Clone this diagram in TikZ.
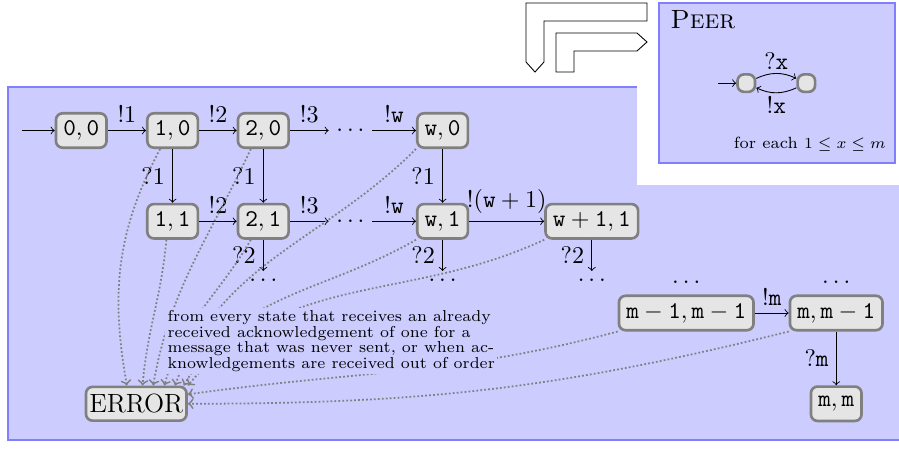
\documentclass[tikz,border=0pt]{standalone}
\usepackage{tikz}
\usetikzlibrary{calc}
\usetikzlibrary{positioning}

\begin{document}
\begin{tikzpicture}[
    font=\fontsize{11pt}{13pt}\selectfont,
    statebox/.style={rectangle, rounded corners=3pt, draw=gray, very thick, fill=gray!20, inner xsep=3.33pt, minimum height=0.55cm},
    errline/.style={->, gray, thick, densely dotted},
]
    \useasboundingbox (0,0) rectangle (14.384,-7.184);
    \clip (0,0) rectangle (14.384,-7.184);

    % background
    \draw[thick, draw=blue!50, fill=blue!20] (0.128,-1.392) rectangle (15,-7.04);
    \fill[white] (10.192,0.1) rectangle (15,-2.96);

    % channel arrows
    \draw (8.416,-0.048) -- (10.352,-0.048) -- (10.352,-0.336) -- (8.704,-0.336) -- (8.704,-0.992) -- (8.56,-1.152) -- (8.416,-0.992) -- cycle;
    \draw (8.896,-0.528) -- (10.192,-0.528) -- (10.352,-0.672) -- (10.192,-0.816) -- (9.184,-0.816) -- (9.184,-1.152) -- (8.896,-1.152) -- cycle;

    % peer
    \draw[thick, draw=blue!50, fill=blue!20] (10.544,-0.048) rectangle (14.32,-2.608);
    \node[anchor=base west, font=\large, inner sep=0pt] (peer_title) at (10.72,-0.464) {\textsc{Peer}};
    \node[statebox, minimum size=0.28cm, inner sep=0pt] (peer_a) at (11.94,-1.33) {};
    \node[statebox, minimum size=0.28cm, inner sep=0pt, right=0.64cm of peer_a] (peer_b) {};
    \coordinate[left=0.29cm of peer_a] (peer_init);
    \draw[->] (peer_init) -- (peer_a);
    \draw[->] (peer_a) to[bend left=25] node[above, inner sep=1.5pt] {$?\mathtt{x}$} (peer_b);
    \draw[->] (peer_b) to[bend left=25] node[below, inner sep=1.5pt] {$!\mathtt{x}$} (peer_a);
    \node[anchor=base east, inner sep=0pt, font=\fontsize{7.4pt}{9pt}\selectfont] (peer_range) at (14.18,-2.384) {for each $1 \leq x \leq m$};

    % states
    \node[statebox] (state_0_0) at (1.30,-2.088) {$\mathtt{0,0}$};
    \coordinate[left=0.53cm of state_0_0] (init);
    \node[statebox, right=0.61cm of state_0_0] (state_1_0) {$\mathtt{1,0}$};
    \node[statebox, right=0.6cm of state_1_0] (state_2_0) {$\mathtt{2,0}$};
    \node[right=0.62cm of state_2_0] (dots_0) {$\dots$};
    \node[statebox, right=0.7cm of dots_0] (state_w_0) {$\mathtt{w,0}$};

    \node[statebox, below=0.86cm of state_1_0] (state_1_1) {$\mathtt{1,1}$};
    \node[statebox, below=0.86cm of state_2_0] (state_2_1) {$\mathtt{2,1}$};
    \node[right=0.62cm of state_2_1] (dots_1) {$\dots$};
    \node[statebox, right=0.7cm of dots_1] (state_w_1) {$\mathtt{w,1}$};
    \node[statebox, right=1.2cm of state_w_1] (state_w1_1) {$\mathtt{w+1,1}$};

    \node[below=0.5cm of state_2_1] (dots_2_2) {$\dots$};
    \node[below=0.5cm of state_w_1] (dots_w_2) {$\dots$};
    \node[below=0.5cm of state_w1_1] (dots_w1_2) {$\dots$};

    \node[statebox] (state_m1_m1) at (10.98,-5.008) {$\mathtt{m-1,m-1}$};
    \node[statebox, right=0.54cm of state_m1_m1] (state_m_m1) {$\mathtt{m,m-1}$};
    \node[statebox, below=0.86cm of state_m_m1] (state_m_m) {$\mathtt{m,m}$};
    \node[above=0.05cm of state_m1_m1] (dots_m1) {$\dots$};
    \node[above=0.05cm of state_m_m1] (dots_m) {$\dots$};

    \node[statebox, font=\large, inner xsep=1.5pt, minimum height=0pt] (error) at (2.18,-6.46) {ERROR};

    \draw[->] (init) -- (state_0_0);
    \draw[->] (state_0_0) -- node[above] {$!1$} (state_1_0);
    \draw[->] (state_1_0) -- node[above] {$!2$} (state_2_0);
    \draw[->] (state_2_0) -- node[above] {$!3$} (dots_0);
    \draw[->] (dots_0) -- node[above] {$!\mathtt{w}$} (state_w_0);
    \draw[->] (state_1_1) -- node[above] {$!2$} (state_2_1);
    \draw[->] (state_2_1) -- node[above] {$!3$} (dots_1);
    \draw[->] (dots_1) -- node[above] {$!\mathtt{w}$} (state_w_1);
    \draw[->] (state_w_1) -- node[above] {$!(\mathtt{w}+1)$} (state_w1_1);
    \draw[->] (state_m1_m1) -- node[above] {$!\mathtt{m}$} (state_m_m1);
    \draw[->] (state_1_0) -- node[left] {$?1$} (state_1_1);
    \draw[->] (state_2_0) -- node[left] {$?1$} (state_2_1);
    \draw[->] (state_w_0) -- node[left] {$?1$} (state_w_1);
    \draw[->] (state_2_1) -- node[left] {$?2$} (dots_2_2);
    \draw[->] (state_w_1) -- node[left] {$?2$} (dots_w_2);
    \draw[->] (state_w1_1) -- node[left] {$?2$} (dots_w1_2);
    \draw[->] (state_m_m1) -- node[left] {$?\mathtt{m}$} (state_m_m);

    % error transitions
    \draw[errline] ([xshift=-0.2cm]state_1_0.south) to[out=-118, in=100] ([xshift=-0.15cm]error.north);
    \draw[errline] ([xshift=-0.1cm]state_1_1.south) to[out=-95, in=85] ([xshift=0.1cm]error.north);
    \draw[errline] ([xshift=-0.2cm]state_2_0.south) to[out=-115, in=80] ([xshift=0.27cm]error.north);
    \draw[errline] ([xshift=-0.2cm]state_2_1.south) to[out=-120, in=75] ([xshift=0.45cm]error.north);
    \draw[errline] (state_w_0.south west) to[out=-135, in=70] ([xshift=0.62cm]error.north);
    \draw[errline] (state_w_1.south west) to[out=-150, in=60] ([xshift=0.76cm]error.north);
    \draw[errline] (state_w1_1.south west) to[out=-155, in=50] (error.north east);
    \draw[errline] (state_m1_m1.south west) to[out=195, in=8] ([yshift=0.15cm]error.east);
    \draw[errline] (state_m_m1.south west) to[out=194, in=0] (error.east);

    \node[anchor=west, fill=blue!20, inner sep=1pt, align=left, font=\fontsize{7.2pt}{7.1pt}\selectfont] (error_note) at (2.64,-5.456) {from every state that receives an already\\ received acknowledgement of one for a\\ message that was never sent, or when ac-\\ knowledgements are received out of order};
\end{tikzpicture}
\end{document}
